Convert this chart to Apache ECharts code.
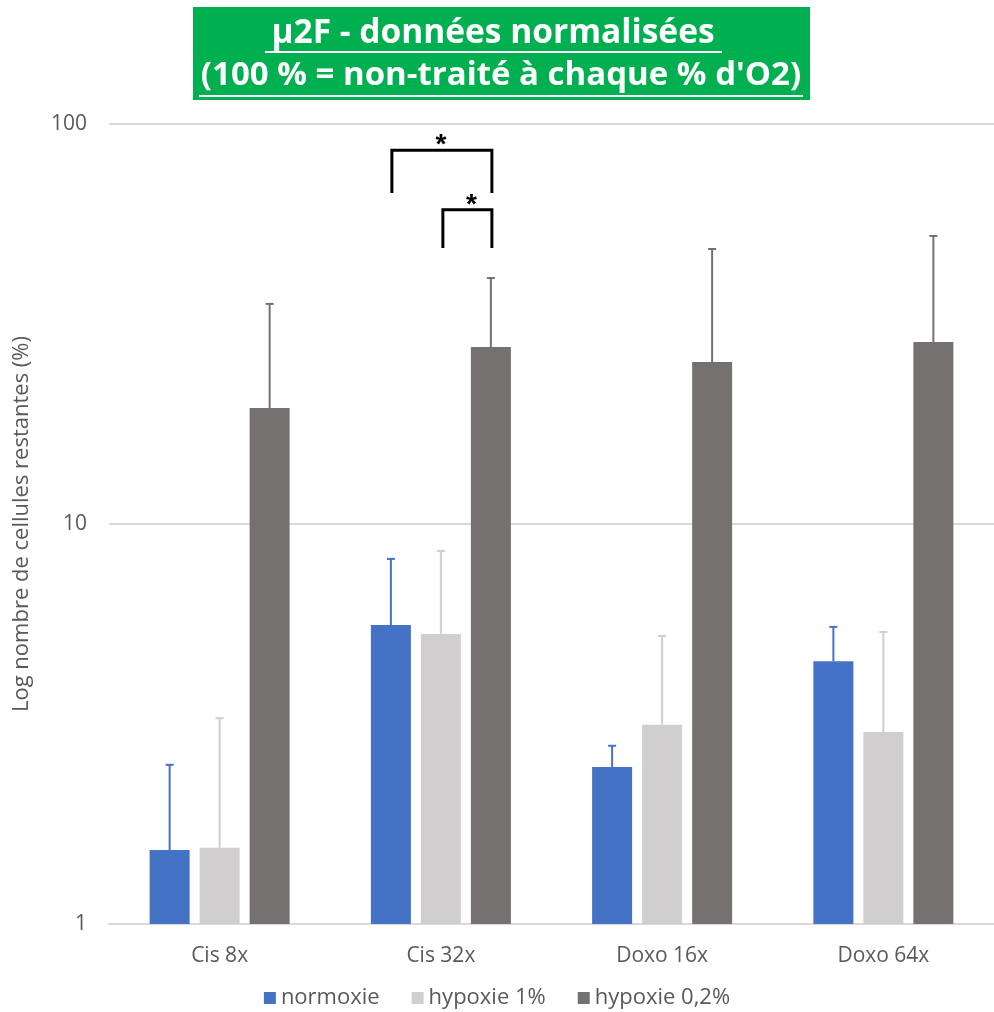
<!DOCTYPE html>
<html><head><meta charset="utf-8">
<script src="https://cdn.jsdelivr.net/npm/echarts@6/dist/echarts.min.js"></script>
<style>html,body{margin:0;padding:0;background:#fff}#c{width:994px;height:1012px}</style>
</head><body><div id="c"></div>
<script>
const categories = ['Cis 8x', 'Cis 32x', 'Doxo 16x', 'Doxo 64x'];
const seriesNames = ['normoxie', 'hypoxie 1%', 'hypoxie 0,2%'];
const normoxie = [1.53, 5.59, 2.47, 4.54];
const normoxieErr = [2.50, 8.18, 2.79, 5.53];
const hypoxie1 = [1.55, 5.31, 3.15, 3.02];
const hypoxie1Err = [3.27, 8.56, 5.25, 5.37];
const hypoxie02 = [19.5, 27.7, 25.4, 28.5];
const hypoxie02Err = [35.5, 41.2, 48.7, 52.5];
const yTicks = [1, 10, 100];
// significance brackets: [category index, left series, right series, top value, leg-bottom value]
const brackets = [[1, 0, 2, 86, 67.2], [1, 1, 2, 61, 49]];
const colors = ['#4472c4', '#d0cece', '#767171'];

const values = [normoxie, hypoxie1, hypoxie02];
const errs = [normoxieErr, hypoxie1Err, hypoxie02Err];
const BAR_W = 40, GAP = 10;
const offsetOf = s => (s - 1) * (BAR_W + GAP);
const FONT = '"Open Sans", sans-serif';

const chart = echarts.init(document.getElementById('c'));

const barSeries = seriesNames.map((n, i) => ({
  name: n, type: 'bar', data: values[i], barWidth: BAR_W, barGap: '25%',
  itemStyle: { color: colors[i] }, z: 2
}));

const errSeries = seriesNames.map((n, s) => ({
  type: 'custom', name: n + '_err', silent: true, z: 3,
  data: values[s].map((v, i) => [i, v, errs[s][i]]),
  renderItem: (params, api) => {
    const c = api.coord([api.value(0), api.value(1)]);
    const e = api.coord([api.value(0), api.value(2)]);
    const x = c[0] + offsetOf(s);
    return { type: 'group', children: [
      { type: 'line', shape: { x1: x, y1: c[1], x2: x, y2: e[1] }, style: { stroke: colors[s], lineWidth: 2 } },
      { type: 'line', shape: { x1: x - 4, y1: e[1], x2: x + 4, y2: e[1] }, style: { stroke: colors[s], lineWidth: 2 } }
    ]};
  },
  encode: { x: 0, y: 1 }
}));

const bracketSeries = {
  type: 'custom', silent: true, z: 4,
  data: brackets,
  renderItem: (params, api) => {
    const cat = api.value(0), l = api.value(1), r = api.value(2);
    const top = api.coord([cat, api.value(3)]);
    const bot = api.coord([cat, api.value(4)]);
    const xl = top[0] + offsetOf(l) + (l === 1 ? 2 : 1), xr = top[0] + offsetOf(r) + 1;
    const starX = params.dataIndex === 0 ? (xl + xr) / 2 - 1 : (xl + xr) / 2 + 4;
    return { type: 'group', children: [
      { type: 'polyline', shape: { points: [[xl, bot[1]], [xl, top[1]], [xr, top[1]], [xr, bot[1]]] },
        style: { stroke: '#000', lineWidth: 3, fill: null } },
      { type: 'text', style: { text: '*', x: starX, y: top[1] + 9, align: 'center', verticalAlign: 'bottom',
        font: 'bold 28px "Liberation Sans", sans-serif', fill: '#000' } }
    ]};
  },
  encode: { x: 0, y: 3 }
};

chart.setOption({
  animation: false,
  color: colors,
  graphic: [
    { type: 'rect', shape: { x: 193, y: 7, width: 617, height: 93 }, style: { fill: '#00b050' } },
    { type: 'text', style: { text: 'µ2F - données normalisées', x: 493, y: 33, align: 'center', verticalAlign: 'middle',
      font: 'bold 33.5px ' + FONT, fill: '#fff' } },
    { type: 'text', style: { text: "(100 % = non-traité à chaque % d'O2)", x: 501, y: 76, align: 'center', verticalAlign: 'middle',
      font: 'bold 33px ' + FONT, fill: '#fff' } },
    { type: 'line', shape: { x1: 265, y1: 52, x2: 722, y2: 52 }, style: { stroke: '#fff', lineWidth: 2 } },
    { type: 'line', shape: { x1: 199, y1: 96, x2: 803, y2: 96 }, style: { stroke: '#fff', lineWidth: 2 } }
  ],
  legend: {
    data: seriesNames, bottom: -2, left: 'center', itemWidth: 12, itemHeight: 12, itemGap: 32,
    icon: 'rect', textStyle: { color: '#595959', fontSize: 22, fontFamily: 'Open Sans' }
  },
  grid: { left: 109, right: 0, top: 124, bottom: 88, containLabel: false, outerBoundsMode: 'none' },
  xAxis: {
    type: 'category', data: categories,
    axisLine: { lineStyle: { color: '#d9d9d9', width: 2 } }, axisTick: { show: false },
    axisLabel: { color: '#595959', fontSize: 21, fontFamily: 'Open Sans', margin: 22 }
  },
  yAxis: {
    type: 'log', logBase: 10, min: 1, max: 100,
    name: 'Log nombre de cellules restantes (%)', nameLocation: 'middle', nameGap: 76, nameRotate: 90,
    nameTextStyle: { color: '#595959', fontSize: 22, fontFamily: 'Open Sans' },
    axisLine: { show: false }, axisTick: { show: false },
    splitLine: { lineStyle: { color: '#d9d9d9', width: 2 } },
    axisLabel: { color: '#595959', fontSize: 21, fontFamily: 'Open Sans', margin: 22,
      formatter: v => yTicks.includes(Math.round(v)) ? String(Math.round(v)) : '' }
  },
  series: [...barSeries, ...errSeries, bracketSeries]
});
</script></body></html>
